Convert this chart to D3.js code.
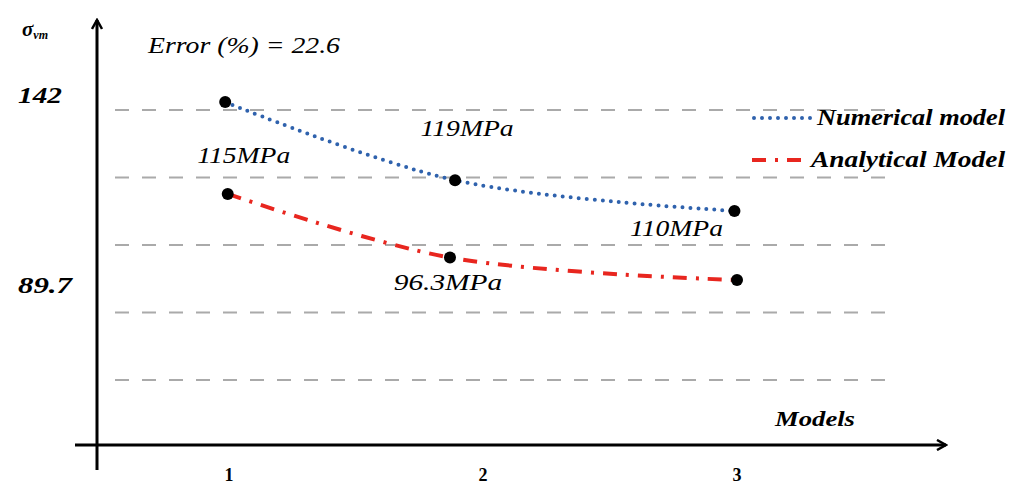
<!DOCTYPE html>
<html>
<head>
<meta charset="utf-8">
<script src="https://cdn.jsdelivr.net/npm/d3@7"></script>
<style>
  body { margin: 0; background: #fff; }
  svg text { font-family: "Liberation Serif", "DejaVu Serif", serif; }
</style>
</head>
<body>
<svg id="main-svg" width="1016" height="487"></svg>
<script>
// data
var models = [1, 2, 3];
var numericalX = [0.985, 1.89, 2.99];
var numericalY = [142, 119, 110];
var analyticalX = [0.995, 1.87, 3.0];
var analyticalY = [115, 96.3, 89.7];
var numericalLabels = ['', '119MPa', '110MPa'];
var analyticalLabels = ['115MPa', '96.3MPa', ''];
var yTicks = [142, 89.7];
var gridRows = [0, 1, 2, 3, 4];

var svg = d3.select('svg#main-svg');

var x = d3.scaleLinear().domain([1, 3]).range([229, 737]);
var y = d3.scaleLinear().domain([89.7, 142]).range([280, 102]);
var grid = d3.scaleLinear().domain([0, 4]).range([110, 380]);

// text helper, the original font is a stretched Times
function label(px, py, str, size, width, bold, italic, anchor) {
  var t = svg.append('text')
    .attr('x', px).attr('y', py)
    .attr('font-size', size)
    .attr('font-weight', bold ? 'bold' : 'normal')
    .attr('font-style', italic ? 'italic' : 'normal')
    .attr('text-anchor', anchor || 'start')
    .text(str);
  if (width) t.attr('textLength', width).attr('lengthAdjust', 'spacingAndGlyphs');
  return t;
}

// dashed grid
svg.selectAll('line.grid')
  .data(gridRows)
  .enter().append('line')
  .attr('class', 'grid')
  .attr('x1', 115).attr('x2', 885)
  .attr('y1', function(d) { return grid(d); })
  .attr('y2', function(d) { return grid(d); })
  .attr('stroke', '#aaa')
  .attr('stroke-width', 2)
  .attr('stroke-dasharray', '14,13');

// axes with arrows
svg.append('defs').append('marker')
  .attr('id', 'arrow')
  .attr('viewBox', '0 0 12 12')
  .attr('refX', 10).attr('refY', 6)
  .attr('markerWidth', 12).attr('markerHeight', 12)
  .attr('markerUnits', 'userSpaceOnUse')
  .attr('orient', 'auto')
  .append('path')
  .attr('d', 'M1,1 L10,6 L1,11')
  .attr('fill', 'none')
  .attr('stroke', '#000')
  .attr('stroke-width', 2.5);

svg.append('line')
  .attr('x1', 97).attr('y1', 470).attr('x2', 97).attr('y2', 20)
  .attr('stroke', '#000').attr('stroke-width', 3)
  .attr('marker-end', 'url(#arrow)');

svg.append('line')
  .attr('x1', 75).attr('y1', 445).attr('x2', 946).attr('y2', 445)
  .attr('stroke', '#000').attr('stroke-width', 3)
  .attr('marker-end', 'url(#arrow)');

// x tick labels
models.forEach(function(d) {
  label(x(d), 481, d, 18, 0, true, false, 'middle');
});

// y tick labels
yTicks.forEach(function(d, i) {
  label(18, y(d) + (i === 0 ? 1 : 13), d, 24, i === 0 ? 44 : 54, true, true);
});

// axis titles
var sig = label(22, 36, '', 21, 0, true, true);
sig.append('tspan').text('σ');
sig.append('tspan').attr('font-size', 12).attr('dy', 3).text('vm');

label(775, 426, 'Models', 22, 80, true, true);
label(148, 53, 'Error (%) = 22.6', 24, 192, false, true);

// series
var line = d3.line()
  .x(function(d) { return x(d[0]); })
  .y(function(d) { return y(d[1]); })
  .curve(d3.curveCatmullRom.alpha(0.5));

var numPts = d3.zip(numericalX, numericalY);
var anaPts = d3.zip(analyticalX, analyticalY);

svg.append('path')
  .datum(numPts)
  .attr('d', line)
  .attr('fill', 'none')
  .attr('stroke', '#2f62ad')
  .attr('stroke-width', 4)
  .attr('stroke-linecap', 'round')
  .attr('stroke-dasharray', '0,8');

svg.append('path')
  .datum(anaPts)
  .attr('d', line)
  .attr('fill', 'none')
  .attr('stroke', '#e8261f')
  .attr('stroke-width', 4)
  .attr('stroke-dasharray', '14,9,3,9');

svg.selectAll('circle.pt')
  .data(numPts.concat(anaPts))
  .enter().append('circle')
  .attr('class', 'pt')
  .attr('cx', function(d) { return x(d[0]); })
  .attr('cy', function(d) { return y(d[1]); })
  .attr('r', 6)
  .attr('fill', '#000');

// value labels
var labelOffsets = {
  '119MPa': [12, -44], '110MPa': [-58, 25], '115MPa': [16, -31], '96.3MPa': [-2, 32]
};
function addLabels(pts, labels) {
  pts.forEach(function(p, i) {
    if (!labels[i]) return;
    var o = labelOffsets[labels[i]];
    label(x(p[0]) + o[0], y(p[1]) + o[1], labels[i], 24,
      labels[i].length * 15.5, false, true, 'middle');
  });
}
addLabels(numPts, numericalLabels);
addLabels(anaPts, analyticalLabels);

// legend
svg.append('line')
  .attr('x1', 754).attr('x2', 814).attr('y1', 118).attr('y2', 118)
  .attr('stroke', '#2f62ad').attr('stroke-width', 4)
  .attr('stroke-linecap', 'round').attr('stroke-dasharray', '0,8');
label(817, 125, 'Numerical model', 24, 188, true, true);

svg.append('line')
  .attr('x1', 752).attr('x2', 808).attr('y1', 160).attr('y2', 160)
  .attr('stroke', '#e8261f').attr('stroke-width', 4)
  .attr('stroke-dasharray', '14,9,3,9');
label(811, 167, 'Analytical Model', 24, 194, true, true);
</script>
</body>
</html>
